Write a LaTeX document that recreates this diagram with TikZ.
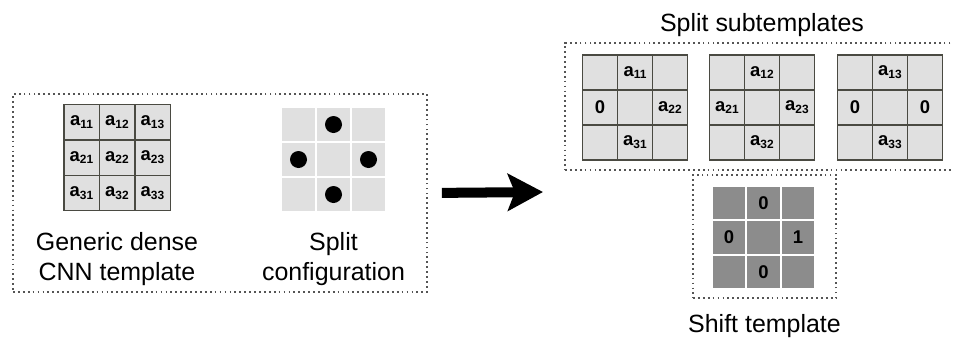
\documentclass[tikz,border=0pt]{standalone}
\usepackage{fontspec}
\setmainfont{Liberation Sans}
\usetikzlibrary{positioning,arrows.meta}
\definecolor{cellfill}{HTML}{E0E0E0}
\definecolor{cellline}{HTML}{4A4A42}
\definecolor{shiftfill}{HTML}{8C8C8C}
\definecolor{dotline}{HTML}{555555}
\newcommand{\elem}[1]{a\raisebox{-0.3ex}{\fontsize{6.8}{7}\selectfont #1}}
\tikzset{
  cell/.style={draw=cellline, line width=0.85pt, fill=cellfill, minimum size=0.7cm, inner sep=0pt, font=\bfseries\fontsize{10.5}{11}\selectfont},
  cfgcell/.style={fill=cellfill, minimum size=0.66cm, inner sep=0pt},
  shiftcell/.style={fill=shiftfill, minimum size=0.65cm, inner sep=0pt, font=\bfseries\fontsize{10.5}{11}\selectfont},
  entry/.style={inner sep=0pt, font=\bfseries\fontsize{10.5}{11}\selectfont},
  dot/.style={circle, fill=black, minimum size=0.34cm, inner sep=0pt},
  dotbox/.style={draw=dotline, line width=1pt, dash pattern=on 1pt off 1.8pt, inner sep=0pt},
  caption/.style={align=center, inner sep=0pt, font=\fontsize{14.2}{17}\selectfont},
  bigarrow/.style={-{Stealth[length=20pt, width=21pt, inset=4pt]}, line width=5.7pt, black}}

\begin{document}
\begin{tikzpicture}[x=0.02cm, y=-0.02cm]
\useasboundingbox (0,0) rectangle (953,349);
% dotted frames
\node[dotbox, minimum width=8.28cm, minimum height=3.96cm] (genbox) at (220,193) {};
\node[dotbox, minimum width=7.8cm, minimum height=2.54cm] (subbox) at (760,106.5) {};
\node[dotbox, minimum width=2.86cm, minimum height=2.46cm] (shiftbox) at (764.5,236.5) {};
% generic dense template
\foreach \r in {1,2,3}
  \foreach \c in {1,2,3}
    \node[cell, minimum size=0.71cm] (gen-\r\c) at ({117+(\c-2)*35.5},{157.5+(\r-2)*35.5}) {\elem{\r\c}};
\node[caption, below=0.42cm of gen-32] (genlabel) {Generic dense\\CNN template};
% split configuration
\foreach \r in {1,2,3}
  \foreach \c in {1,2,3}
    \node[cfgcell] (cfg-\r\c) at ({333.5+(\c-2)*35},{159.5+(\r-2)*35}) {};
\foreach \p in {12,21,23,32}
  \node[dot] at (cfg-\p) {};
\node[caption, below=0.42cm of cfg-32] (cfglabel) {Split\\configuration};
% split subtemplates
\foreach \g/\gx in {1/635,2/762,3/890}
  \foreach \r in {1,2,3}
    \foreach \c in {1,2,3}
      \node[cell] (sub\g-\r\c) at ({\gx+(\c-2)*35},{107.5+(\r-2)*35}) {};
\foreach \g/\vn/\vw/\ve/\vs in {1/\elem{11}/0/\elem{22}/\elem{31},
    2/\elem{12}/\elem{21}/\elem{23}/\elem{32},
    3/\elem{13}/0/0/\elem{33}} {
  \node[entry] at (sub\g-12) {\vn};
  \node[entry] at (sub\g-21) {\vw};
  \node[entry] at (sub\g-23) {\ve};
  \node[entry] at (sub\g-32) {\vs};
}
\node[caption, above=0.34cm of sub2-12] (sublabel) {Split subtemplates};
% shift template
\foreach \r in {1,2,3}
  \foreach \c in {1,2,3}
    \node[shiftcell] (shift-\r\c) at ({763.5+(\c-2)*34.5},{237.5+(\r-2)*34.5}) {};
\node[entry] at (shift-12) {0};
\node[entry] at (shift-21) {0};
\node[entry] at (shift-23) {1};
\node[entry] at (shift-32) {0};
\node[caption, below=0.3cm of shiftbox] (shiftlabel) {Shift template};
% arrow
\coordinate (tip) at (543,192);
\draw[bigarrow, shorten <=0.28cm] (genbox.east) -- (tip);
\end{tikzpicture}
\end{document}
